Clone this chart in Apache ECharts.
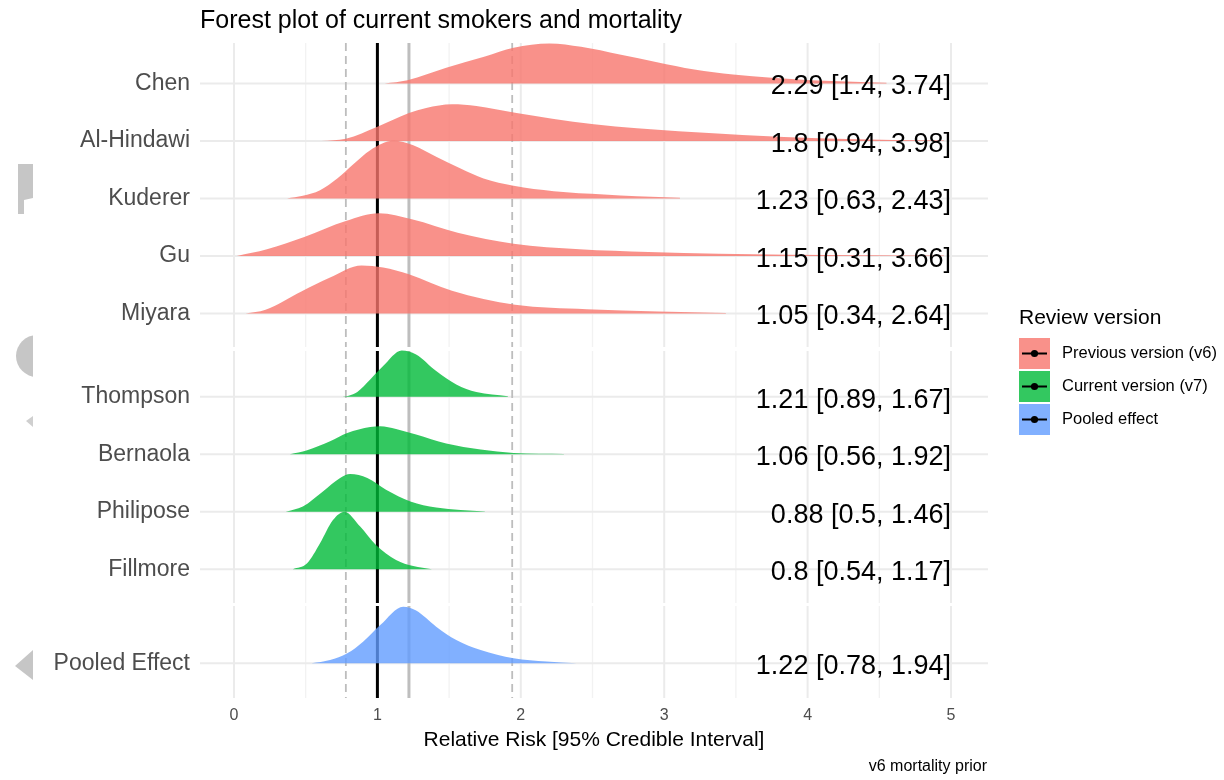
<!DOCTYPE html>
<html>
<head>
<meta charset="utf-8">
<script src="https://cdn.jsdelivr.net/npm/echarts@6/dist/echarts.min.js"></script>
<style>html,body{margin:0;padding:0;background:#fff}#c{width:1224px;height:780px}</style>
</head>
<body>
<div id="c"></div>
<script>
// ---------------- data ----------------
const titleText = 'Forest plot of current smokers and mortality';
const xTitle = 'Relative Risk [95% Credible Interval]';
const captionText = 'v6 mortality prior';
const legendTitle = 'Review version';
const groups = ['Previous version (v6)', 'Current version (v7)', 'Pooled effect'];
const groupColors = ['rgba(248,118,109,0.8)', 'rgba(0,186,56,0.8)', 'rgba(97,156,255,0.8)'];

const panel1Studies = ['Chen', 'Al-Hindawi', 'Kuderer', 'Gu', 'Miyara'];
const panel2Studies = ['Thompson', 'Bernaola', 'Philipose', 'Fillmore'];
const panel3Studies = ['Pooled Effect'];

const panel1Labels = ['2.29 [1.4, 3.74]', '1.8 [0.94, 3.98]', '1.23 [0.63, 2.43]', '1.15 [0.31, 3.66]', '1.05 [0.34, 2.64]'];
const panel2Labels = ['1.21 [0.89, 1.67]', '1.06 [0.56, 1.92]', '0.88 [0.5, 1.46]', '0.8 [0.54, 1.17]'];
const panel3Labels = ['1.22 [0.78, 1.94]'];

const xTicks = [0, 1, 2, 3, 4, 5];
const xMinorTicks = [0.5, 1.5, 2.5, 3.5, 4.5];
const nullEffect = 1;
const pooledMedian = 1.22;
const pooledCrI = [0.78, 1.94];

// density curves: [relative risk, ridge height in row units]
const curveChen = [[1.05,0],[1.21,0.057],[1.48,0.273],[1.75,0.47],[1.95,0.621],[2.2,0.696],[2.42,0.638],[2.69,0.504],[2.95,0.37],[3.21,0.243],[3.48,0.157],[3.75,0.099],[4.02,0.057],[4.42,0.023],[4.55,0.014]];
const curveAlHindawi = [[0.61,0],[0.78,0.04],[1.0,0.249],[1.22,0.487],[1.34,0.574],[1.52,0.638],[1.69,0.609],[1.96,0.492],[2.22,0.388],[2.51,0.29],[2.81,0.221],[3.1,0.169],[3.4,0.127],[3.69,0.087],[3.98,0.057],[4.27,0.035],[4.6,0.017],[4.95,0.009]];
const curveKuderer = [[0.37,0],[0.48,0.047],[0.6,0.144],[0.72,0.348],[0.83,0.591],[0.95,0.84],[1.11,1.003],[1.25,0.927],[1.41,0.725],[1.58,0.522],[1.74,0.348],[1.95,0.221],[2.23,0.127],[2.58,0.07],[2.81,0.04],[3.11,0.012]];
const curveGu = [[0.02,0],[0.23,0.117],[0.49,0.33],[0.78,0.609],[1.01,0.743],[1.24,0.638],[1.56,0.405],[1.95,0.214],[2.41,0.117],[2.89,0.07],[3.38,0.04],[3.87,0.023],[4.4,0.012],[4.95,0.007]];
const curveMiyara = [[0.08,0],[0.22,0.064],[0.47,0.383],[0.67,0.626],[0.89,0.835],[1.04,0.8],[1.22,0.683],[1.52,0.395],[1.96,0.151],[2.46,0.075],[2.96,0.035],[3.43,0.009]];
const curveThompson = [[0.74,0],[0.8,0.02],[0.86,0.085],[0.95,0.301],[1.04,0.534],[1.17,0.805],[1.27,0.736],[1.41,0.447],[1.55,0.214],[1.69,0.082],[1.91,0.012]];
const curveBernaola = [[0.39,0],[0.51,0.07],[0.67,0.226],[0.79,0.37],[0.95,0.475],[1.02,0.487],[1.13,0.44],[1.27,0.343],[1.48,0.186],[1.72,0.082],[1.95,0.023],[2.3,0.005]];
const curvePhilipose = [[0.36,0],[0.48,0.092],[0.62,0.353],[0.74,0.586],[0.81,0.656],[0.93,0.586],[1.06,0.383],[1.23,0.179],[1.41,0.075],[1.75,0.005]];
const curveFillmore = [[0.41,0],[0.51,0.104],[0.6,0.452],[0.69,0.857],[0.77,1.003],[0.88,0.743],[0.99,0.423],[1.13,0.162],[1.25,0.057],[1.38,0]];
const curvePooled = [[0.54,0],[0.67,0.057],[0.79,0.174],[0.9,0.377],[1.02,0.666],[1.18,0.986],[1.27,0.917],[1.41,0.638],[1.55,0.405],[1.72,0.231],[1.95,0.087],[2.18,0.03],[2.39,0]];

const panel1Curves = [curveChen, curveAlHindawi, curveKuderer, curveGu, curveMiyara];
const panel2Curves = [curveThompson, curveBernaola, curvePhilipose, curveFillmore];
const panel3Curves = [curvePooled];

// ---------------- layout ----------------
const FONT = '"Liberation Sans", Arial, Helvetica, sans-serif';
const PLOT_LEFT = 200, PLOT_RIGHT = 988;
const X0PX = 234, XUNIT = 143.4;
const xMin = (PLOT_LEFT - X0PX) / XUNIT, xMax = (PLOT_RIGHT - X0PX) / XUNIT;
const panels = [
  { studies: panel1Studies, labels: panel1Labels, curves: panel1Curves, group: 0, top: 43, height: 304, min: -0.583, max: 4.704 },
  { studies: panel2Studies, labels: panel2Labels, curves: panel2Curves, group: 1, top: 351, height: 252, min: -0.586, max: 3.797 },
  { studies: panel3Studies, labels: panel3Labels, curves: panel3Curves, group: 2, top: 606, height: 92, min: -0.603, max: 0.997 }
];

function monotonePath(P) {
  const n = P.length;
  const d = [], t = [];
  for (let i = 0; i < n - 1; i++) d.push((P[i + 1][1] - P[i][1]) / (P[i + 1][0] - P[i][0]));
  t[0] = d[0]; t[n - 1] = d[n - 2];
  for (let i = 1; i < n - 1; i++) t[i] = (d[i - 1] * d[i] <= 0) ? 0 : (d[i - 1] + d[i]) / 2;
  for (let i = 0; i < n - 1; i++) {
    if (d[i] === 0) { t[i] = 0; t[i + 1] = 0; continue; }
    const a = t[i] / d[i], b = t[i + 1] / d[i];
    const s = a * a + b * b;
    if (s > 9) { const k = 3 / Math.sqrt(s); t[i] = k * a * d[i]; t[i + 1] = k * b * d[i]; }
  }
  let s = 'M' + P[0][0] + ',' + P[0][1];
  for (let i = 0; i < n - 1; i++) {
    const h = (P[i + 1][0] - P[i][0]) / 3;
    s += 'C' + (P[i][0] + h) + ',' + (P[i][1] + t[i] * h) + ' ' + (P[i + 1][0] - h) + ',' + (P[i + 1][1] - t[i + 1] * h) + ' ' + P[i + 1][0] + ',' + P[i + 1][1];
  }
  return s;
}

const grids = [], xAxes = [], yAxes = [], series = [];
panels.forEach((p, pi) => {
  const nRows = p.studies.length;
  grids.push({ left: PLOT_LEFT, width: PLOT_RIGHT - PLOT_LEFT, top: p.top, height: p.height });
  const isBottom = pi === panels.length - 1;
  xAxes.push({
    gridIndex: pi, type: 'value', min: xMin, max: xMax,
    axisLine: { show: false }, axisTick: { show: false }, splitLine: { show: false },
    axisLabel: isBottom ? { show: true, customValues: xTicks, color: '#4D4D4D', fontSize: 16, fontFamily: FONT, margin: 10, formatter: v => String(v) } : { show: false }
  });
  yAxes.push({
    gridIndex: pi, type: 'value', min: p.min, max: p.max,
    axisLine: { show: false }, axisTick: { show: false }, splitLine: { show: false },
    axisLabel: {
      show: true, customValues: p.studies.map((s, i) => nRows - 1 - i),
      formatter: v => p.studies[nRows - 1 - Math.round(v)] || '',
      color: '#4D4D4D', fontSize: 23, fontFamily: FONT, margin: 10, padding: [4, 0, 0, 0]
    }
  });
  // minor vertical gridlines
  series.push({
    type: 'custom', xAxisIndex: pi, yAxisIndex: pi, silent: true, z: 1,
    data: xMinorTicks.map(v => [v, 0]),
    renderItem: (params, api) => {
      const cs = params.coordSys; const x = api.coord([api.value(0), 0])[0];
      return { type: 'line', shape: { x1: x, y1: cs.y, x2: x, y2: cs.y + cs.height }, style: { stroke: '#F2F2F2', lineWidth: 1.3 } };
    }
  });
  // major vertical gridlines
  series.push({
    type: 'custom', xAxisIndex: pi, yAxisIndex: pi, silent: true, z: 1,
    data: xTicks.map(v => [v, 0]),
    renderItem: (params, api) => {
      const cs = params.coordSys; const x = api.coord([api.value(0), 0])[0];
      return { type: 'line', shape: { x1: x, y1: cs.y, x2: x, y2: cs.y + cs.height }, style: { stroke: '#EBEBEB', lineWidth: 2 } };
    }
  });
  // horizontal row gridlines
  series.push({
    type: 'custom', xAxisIndex: pi, yAxisIndex: pi, silent: true, z: 1,
    data: p.studies.map((s, i) => [0, nRows - 1 - i]),
    renderItem: (params, api) => {
      const cs = params.coordSys; const y = api.coord([0, api.value(1)])[1];
      return { type: 'line', shape: { x1: cs.x, y1: y, x2: cs.x + cs.width, y2: y }, style: { stroke: '#EBEBEB', lineWidth: 2 } };
    }
  });
  // reference lines
  const refVals = [pooledCrI[0], pooledCrI[1], pooledMedian, nullEffect];
  const refStyles = [
    { stroke: '#BDBDBD', lineWidth: 1.8, lineDash: [8, 5] },
    { stroke: '#BDBDBD', lineWidth: 1.8, lineDash: [8, 5] },
    { stroke: '#BEBEBE', lineWidth: 3 },
    { stroke: '#000000', lineWidth: 3 }
  ];
  series.push({
    type: 'custom', xAxisIndex: pi, yAxisIndex: pi, silent: true, z: 2,
    data: refVals.map(v => [v, 0]),
    renderItem: (params, api) => {
      const cs = params.coordSys; const x = api.coord([api.value(0), 0])[0];
      return { type: 'line', shape: { x1: x, y1: cs.y, x2: x, y2: cs.y + cs.height }, style: refStyles[params.dataIndex] };
    }
  });
  // density ridges
  p.curves.forEach((curve, ci) => {
    const row = nRows - 1 - ci;
    series.push({
      type: 'custom', name: p.studies[ci], xAxisIndex: pi, yAxisIndex: pi, silent: true, z: 3,
      data: [[curve[0][0], row]],
      renderItem: (params, api) => {
        const r = api.value(1);
        const pts = curve.map(([x, h]) => api.coord([x, r + h]));
        const b1 = api.coord([curve[curve.length - 1][0], r]);
        const b0 = api.coord([curve[0][0], r]);
        const d = monotonePath(pts) + 'L' + b1[0] + ',' + b1[1] + 'L' + b0[0] + ',' + b0[1] + 'Z';
        return { type: 'path', shape: { pathData: d }, style: { fill: groupColors[p.group], stroke: null } };
      }
    });
  });
  // estimate labels
  series.push({
    type: 'custom', xAxisIndex: pi, yAxisIndex: pi, silent: true, z: 5,
    data: p.labels.map((l, i) => [xTicks[xTicks.length - 1], nRows - 1 - i]),
    renderItem: (params, api) => {
      const c = api.coord([api.value(0), api.value(1)]);
      return { type: 'text', x: c[0], y: c[1] + 3.5, style: { text: p.labels[params.dataIndex], align: 'right', verticalAlign: 'middle', fontSize: 27, fontFamily: FONT, fill: '#000000' } };
    }
  });
});

// ---------------- graphics: title, axis title, caption, legend ----------------
const graphics = [
  // faint remnants at left edge
  { type: 'polygon', z: 0, shape: { points: [[18,164],[33,164],[33,198],[24,200],[24,214],[18,214]] }, style: { fill: '#C6C6C6' } },
  { type: 'circle', z: 0, shape: { cx: 37, cy: 356, r: 21 }, style: { fill: '#C6C6C6' } },
  { type: 'polygon', z: 0, shape: { points: [[26,421],[33,416],[33,427]] }, style: { fill: '#CFCFCF' } },
  { type: 'polygon', z: 0, shape: { points: [[15,666],[33,650],[33,680]] }, style: { fill: '#C6C6C6' } },
  { type: 'rect', z: 1, shape: { x: 33, y: 330, width: 30, height: 55 }, style: { fill: '#FFFFFF' } },
  { type: 'text', z: 10, x: 200, y: 21, style: { text: titleText, fontSize: 25, fontFamily: FONT, fill: '#000', align: 'left', verticalAlign: 'middle' } },
  { type: 'text', z: 10, x: (PLOT_LEFT + PLOT_RIGHT) / 2, y: 740, style: { text: xTitle, fontSize: 21, fontFamily: FONT, fill: '#000', align: 'center', verticalAlign: 'middle' } },
  { type: 'text', z: 10, x: 987, y: 767, style: { text: captionText, fontSize: 16, fontFamily: FONT, fill: '#000', align: 'right', verticalAlign: 'middle' } },
  { type: 'text', z: 10, x: 1019, y: 318, style: { text: legendTitle, fontSize: 21, fontFamily: FONT, fill: '#000', align: 'left', verticalAlign: 'middle' } }
];
groups.forEach((g, i) => {
  const top = 338 + i * 33;
  const cy = top + 15.5;
  graphics.push({ type: 'rect', z: 10, shape: { x: 1019, y: top, width: 31, height: 31 }, style: { fill: groupColors[i] } });
  graphics.push({ type: 'line', z: 11, shape: { x1: 1022, y1: cy, x2: 1047, y2: cy }, style: { stroke: '#000', lineWidth: 2 } });
  graphics.push({ type: 'circle', z: 12, shape: { cx: 1034.5, cy: cy, r: 3.6 }, style: { fill: '#000' } });
  graphics.push({ type: 'text', z: 10, x: 1062, y: cy, style: { text: g, fontSize: 16.5, fontFamily: FONT, fill: '#000', align: 'left', verticalAlign: 'middle' } });
});

const chart = echarts.init(document.getElementById('c'), null, { renderer: 'canvas' });
chart.setOption({
  animation: false,
  backgroundColor: '#FFFFFF',
  grid: grids,
  xAxis: xAxes,
  yAxis: yAxes,
  series: series,
  graphic: { elements: graphics }
});
</script>
</body>
</html>
